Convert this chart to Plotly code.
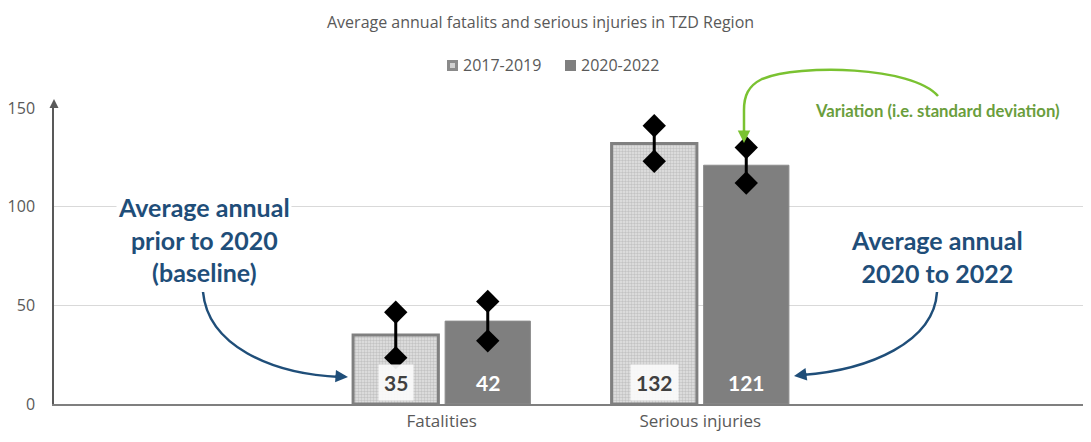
import plotly.graph_objects as go

categories = ["Fatalities", "Serious injuries"]
series_names = ["2017-2019", "2020-2022"]
values_2017_2019 = [35, 132]
values_2020_2022 = [42, 121]
sd_2017_2019 = [11.5, 9]
sd_2020_2022 = [10, 9]
y_ticks = [0, 50, 100, 150]
title_text = "Average annual fatalits and serious injuries in TZD Region"

# page has an 8px body margin; screen coords -> figure coords
OFF = 8
W, H = 1080, 426
L, R, T, B = 54 - OFF, 1088 - OFF, 108 - OFF, 404 - OFF   # plot area in figure px

def px(x):  # screen x -> paper
    return (x - OFF - L) / (R - L)
def py(y):  # screen y -> paper
    return (B - (y - OFF)) / (B - T)

cat_pos = list(range(len(categories)))
offset = 0.178
width = 0.33

FONT = "Open Sans"
BFONT = "Lato"
GREY = "#595959"
BLUE = "#1F4E79"
GREEN_LINE = "#7ac231"

fig = go.Figure()

x1 = [p - offset for p in cat_pos]
x2 = [p + offset for p in cat_pos]

PAT = dict(shape=".", size=3, solidity=0.5, fgcolor="#a4a4a4", bgcolor="#e2e2e2")

fig.add_trace(go.Bar(
    x=x1, y=values_2017_2019, width=width, name=series_names[0], showlegend=False,
    marker=dict(color="#d4d4d4", line=dict(color="#808080", width=3), pattern=PAT),
))
fig.add_trace(go.Bar(
    x=x2, y=values_2020_2022, width=width, name=series_names[1], showlegend=False,
    marker=dict(color="#7f7f7f", line=dict(color="#8c8c8c", width=1)),
))

# error bars (line with diamond ends)
for xs, vals, sds in [(x1, values_2017_2019, sd_2017_2019), (x2, values_2020_2022, sd_2020_2022)]:
    for xv, v, s in zip(xs, vals, sds):
        fig.add_trace(go.Scatter(
            x=[xv, xv], y=[v - s, v + s], mode="lines+markers",
            line=dict(color="black", width=3),
            marker=dict(symbol="diamond", size=18, color="black"),
            showlegend=False, hoverinfo="skip",
        ))

annotations = []
# title
annotations.append(dict(x=px(540), y=py(OFF + 1), xref="paper", yref="paper", text=title_text,
                        showarrow=False, xanchor="center", yanchor="top",
                        font=dict(family=FONT, size=16, color=GREY)))
# data labels
for xv, v in zip(x1, values_2017_2019):
    annotations.append(dict(x=xv, y=0, xref="x", yref="y", text=f"<b>{v}</b>", showarrow=False,
                            xanchor="center", yanchor="bottom", yshift=3,
                            bgcolor="rgba(250,250,250,0.93)", borderpad=5,
                            font=dict(family=BFONT, size=21, color="#404040")))
for xv, v in zip(x2, values_2020_2022):
    annotations.append(dict(x=xv, y=0, xref="x", yref="y", text=f"<b>{v}</b>", showarrow=False,
                            xanchor="center", yanchor="bottom", yshift=3, borderpad=5,
                            font=dict(family=BFONT, size=21, color="white")))

# callout texts
annotations.append(dict(x=px(204), y=py(239), xref="paper", yref="paper",
                        text="<b>Average annual<br>prior to 2020<br>(baseline)</b>", showarrow=False,
                        xanchor="center", yanchor="middle",
                        bgcolor="white", font=dict(family=BFONT, size=25, color=BLUE), align="center"))
annotations.append(dict(x=px(937), y=py(256), xref="paper", yref="paper",
                        text="<b>Average annual<br>2020 to 2022</b>", showarrow=False,
                        xanchor="center", yanchor="middle",
                        bgcolor="white", font=dict(family=BFONT, size=25, color=BLUE), align="center"))
annotations.append(dict(x=px(937), y=py(111), xref="paper", yref="paper",
                        text="<b>Variation (i.e. standard deviation)</b>", showarrow=False,
                        xanchor="center", yanchor="middle",
                        bgcolor="white", borderpad=1, font=dict(family=BFONT, size=16.7, color="#6a9e3c")))

# arrowheads
annotations.append(dict(x=px(348), y=py(377), xref="paper", yref="paper", text="", showarrow=True,
                        ax=-14, ay=-1, arrowhead=2, arrowsize=1, arrowwidth=2.5, arrowcolor=BLUE))
annotations.append(dict(x=px(794), y=py(376), xref="paper", yref="paper", text="", showarrow=True,
                        ax=14, ay=-2, arrowhead=2, arrowsize=1, arrowwidth=2.5, arrowcolor=BLUE))
annotations.append(dict(x=px(744), y=py(143), xref="paper", yref="paper", text="", showarrow=True,
                        ax=0, ay=-14, arrowhead=2, arrowsize=1, arrowwidth=2.5, arrowcolor=GREEN_LINE))
# y axis arrow
annotations.append(dict(x=0, y=py(99), xref="paper", yref="paper", text="", showarrow=True,
                        ax=0, ay=10, arrowhead=2, arrowsize=1.2, arrowwidth=1.5, arrowcolor=GREY))

# manual legend
leg_y = 65.5
annotations.append(dict(x=px(461), y=py(leg_y), xref="paper", yref="paper", text=series_names[0],
                        showarrow=False, xanchor="left", yanchor="middle",
                        font=dict(family=FONT, size=16, color=GREY)))
annotations.append(dict(x=px(579), y=py(leg_y), xref="paper", yref="paper", text=series_names[1],
                        showarrow=False, xanchor="left", yanchor="middle",
                        font=dict(family=FONT, size=16, color=GREY)))

def P(x, y):
    return f"{px(x):.5f},{py(y):.5f}"

shapes = [
    dict(type="path", xref="paper", yref="paper",
         path=f"M{P(203,292)} C{P(208,345)} {P(270,374)} {P(340,377)}",
         line=dict(color=BLUE, width=2.5)),
    dict(type="path", xref="paper", yref="paper",
         path=f"M{P(937,292)} C{P(934,342)} {P(870,370)} {P(802,375)}",
         line=dict(color=BLUE, width=2.5)),
    dict(type="path", xref="paper", yref="paper",
         path=f"M{P(938,96)} C{P(912,66)} {P(800,64)} {P(762,79)} C{P(748,86)} {P(744,96)} {P(744,110)} L{P(744,134)}",
         line=dict(color=GREEN_LINE, width=2.5)),
    # legend swatches
    dict(type="rect", xref="paper", yref="paper", x0=px(447), x1=px(458), y0=py(60), y1=py(71),
         fillcolor="#8a8a8a", line=dict(width=0)),
    dict(type="rect", xref="paper", yref="paper", x0=px(450), x1=px(455), y0=py(63), y1=py(68),
         fillcolor="#d0d0d0", line=dict(width=0)),
    dict(type="rect", xref="paper", yref="paper", x0=px(565), x1=px(576), y0=py(60), y1=py(71),
         fillcolor="#7f7f7f", line=dict(width=0)),
]

fig.update_layout(
    width=W, height=H,
    margin=dict(l=L, r=W - R, t=T, b=H - B, pad=0),
    paper_bgcolor="white", plot_bgcolor="white",
    showlegend=False,
    barmode="overlay",
    annotations=annotations,
    shapes=shapes,
    font=dict(family=FONT),
)
fig.update_xaxes(range=[-1.5, 2.5], tickvals=cat_pos, ticktext=categories, showgrid=False,
                 zeroline=False, showline=True, linecolor="#7f7f7f", linewidth=1.5, automargin=False,
                 tickfont=dict(family=FONT, size=17, color=GREY), ticks="", ticklabelstandoff=1)
fig.update_yaxes(range=[0, 150], tickvals=y_ticks, showgrid=True, gridcolor="#d9d9d9", gridwidth=1,
                 zeroline=False, showline=True, linecolor=GREY, linewidth=1.5, automargin=False,
                 tickfont=dict(family=FONT, size=16, color=GREY), ticks="", ticklabelstandoff=14)

fig.write_html("out.html")
